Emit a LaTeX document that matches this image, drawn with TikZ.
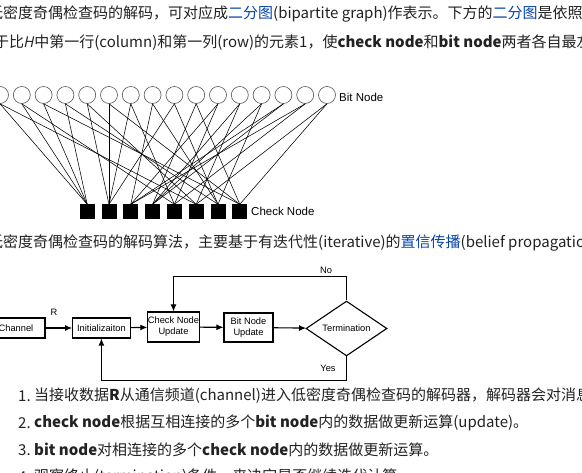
\documentclass[tikz,border=0pt]{standalone}
\usepackage{fontspec}
\setmainfont{Noto Sans CJK SC}
\newfontfamily\arialf{Liberation Sans}
\newfontfamily\openf{Open Sans}
\usetikzlibrary{shapes.geometric,arrows.meta}
\definecolor{txtc}{HTML}{222222}
\definecolor{linkc}{HTML}{0645AD}
\definecolor{circc}{HTML}{555555}
\newcommand{\lk}[1]{\textcolor{linkc}{#1}}
\begin{document}
\begin{tikzpicture}[x=1pt,y=-1pt,
  txt/.style={anchor=west, inner sep=0pt, font=\fontsize{15}{18}\selectfont, text=txtc},
  bitnode/.style={circle, draw=circc, minimum size=17pt, inner sep=0pt, line width=0.6pt},
  chknode/.style={rectangle, fill=black, minimum size=15pt, inner sep=0pt},
  tedge/.style={line width=0.55pt},
  glab/.style={anchor=west, inner sep=0pt, font=\arialf\fontsize{11.5}{13}\selectfont},
  fbox/.style={draw, line width=1.1pt, font=\arialf\fontsize{9.3}{11}\selectfont, inner sep=0pt, align=center},
  farrow/.style={line width=1.1pt, -{Latex[length=7pt,width=6pt]}},
  flab/.style={font=\arialf\fontsize{9.3}{11}\selectfont, inner sep=0pt}
]
\useasboundingbox (0,0) rectangle (582,473);
\clip (0,0) rectangle (582,473);
\fill[white] (0,0) rectangle (582,473);

% top paragraph
\node[txt] (t1) at (-12,14) {低密度奇偶检查码的解码，可对应成\lk{二分图}(bipartite graph)作表示。下方的\lk{二分图}是依照};
\node[txt] (t2) at (-6,43) {于比{\openf\itshape H}中第一行(column)和第一列(row)的元素1，使\textbf{check node}和\textbf{bit node}两者各自最左边};

% bipartite graph
\foreach \i in {0,...,15} \node[bitnode] (b\i) at (21.8*\i,95) {};
\foreach \j in {0,...,7} \node[chknode] (c\j) at ({21.8*(\j+4)},212) {};
\node[glab] (bitlab) at (339,97) {Bit Node};
\node[glab] (chklab) at (251,211) {Check Node};
\foreach \i/\j in {0/0,0/5,1/0,1/4,2/0,2/7,3/0,3/6,4/1,4/5,5/1,5/7,6/1,6/4,7/2,7/6,
                   8/1,8/6,9/3,9/7,10/2,10/4,11/3,11/5,12/3,12/6,13/2,13/3,14/2,14/4,15/5,15/7}
  \draw[tedge] (b\i.south) -- (c\j.north);

% middle paragraph
\node[txt] (t3) at (-12,243) {低密度奇偶检查码的解码算法，主要基于有迭代性(iterative)的\lk{置信传播}(belief propagation)};

% flowchart
\node[fbox, minimum width=58pt, minimum height=20pt] (ch) at (16,328) {Channel};
\node[fbox, minimum width=57.3pt, minimum height=20pt] (init) at (101.4,328) {Initializaiton};
\node[fbox, minimum width=51pt, minimum height=30pt] (cnu) at (173.5,327) {Check Node\\Update};
\node[fbox, minimum width=49pt, minimum height=29pt] (bnu) at (248.5,327.5) {Bit Node\\Update};
\node[draw, diamond, line width=1.1pt, minimum width=81pt, minimum height=47pt, inner sep=0pt,
      font=\arialf\fontsize{9.3}{11}\selectfont] (term) at (346.5,328.5) {Termination};
\draw[farrow] (ch) -- (init);
\node[flab] (rlab) at (54,312) {R};
\draw[farrow] (init) -- (cnu);
\draw[farrow] (cnu) -- (bnu);
\draw[farrow] (bnu) -- (term);
\draw[farrow] (term.north) -- ++(0,-24) -| (cnu.north);
\node[flab] (nolab) at (326,270.5) {No};
\draw[farrow] (term.south) -- ++(0,24) -| (init.south);
\node[flab] (yeslab) at (328,368) {Yes};

% list
\node[txt] (n1) at (18,396) {1.};
\node[txt] (l1) at (34,396) {当接收数据\textbf{R}从通信频道(channel)进入低密度奇偶检查码的解码器，解码器会对消息};
\node[txt] (n2) at (18,423) {2.};
\node[txt] (l2) at (34,423) {\textbf{check node}根据互相连接的多个\textbf{bit node}内的数据做更新运算(update)。};
\node[txt] (n3) at (18,450) {3.};
\node[txt] (l3) at (34,450) {\textbf{bit node}对相连接的多个\textbf{check node}内的数据做更新运算。};
\node[txt] (n4) at (18,477) {4.};
\node[txt] (l4) at (34,477) {观察终止(termination)条件，来决定是否继续迭代计算};
\end{tikzpicture}
\end{document}
